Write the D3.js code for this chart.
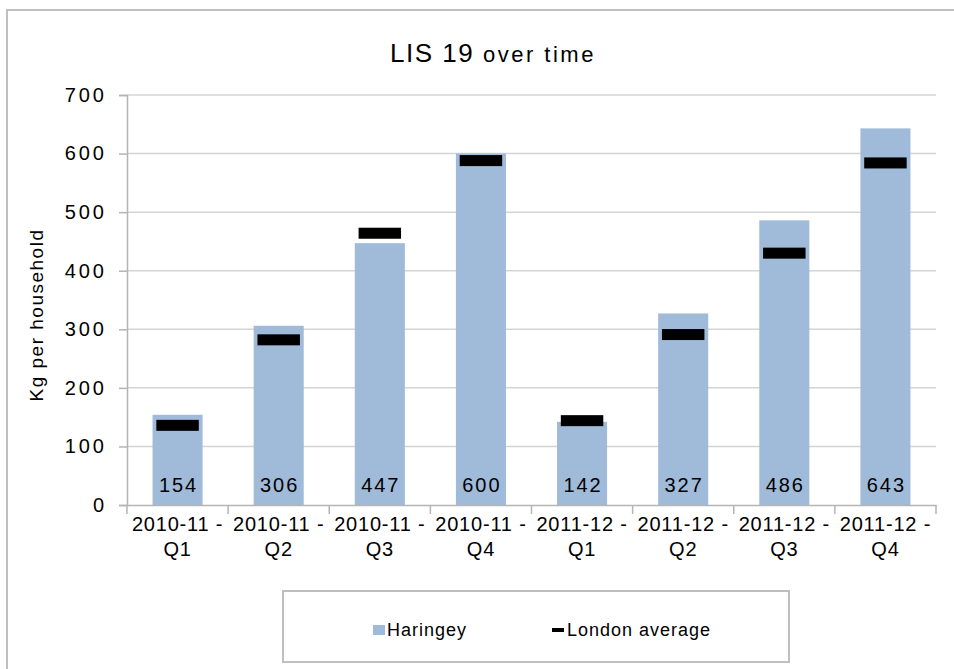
<!DOCTYPE html>
<html>
<head>
<meta charset="utf-8">
<script src="https://cdn.jsdelivr.net/npm/d3@7"></script>
<style>
  body { margin: 0; background: #fff; }
  svg { font-family: "Liberation Sans", Arial, sans-serif; }
</style>
</head>
<body>
<div id="chart"></div>
<script>
const quarters = ["2010-11 - Q1", "2010-11 - Q2", "2010-11 - Q3", "2010-11 - Q4",
                  "2011-12 - Q1", "2011-12 - Q2", "2011-12 - Q3", "2011-12 - Q4"];
const haringey = [154, 306, 447, 600, 142, 327, 486, 643];
const londonAvg = [136, 282, 464, 588, 144, 291, 430, 584];
const yTicks = [0, 100, 200, 300, 400, 500, 600, 700];

const width = 954, height = 669;
const plot = { l: 127, r: 936, t: 95, b: 505 };

const svg = d3.select("#chart").append("svg")
  .attr("width", width)
  .attr("height", height);

// outer frame
svg.append("rect")
  .attr("x", 7).attr("y", 10)
  .attr("width", 960).attr("height", 680)
  .attr("fill", "#fff")
  .attr("stroke", "#bfbfbf")
  .attr("stroke-width", 2);

const x = d3.scaleBand().domain(quarters).range([plot.l, plot.r]).padding(0);
const y = d3.scaleLinear().domain([0, 700]).range([plot.b, plot.t]);

// title
const title = svg.append("text")
  .attr("x", 493).attr("y", 62)
  .attr("text-anchor", "middle");
title.append("tspan").attr("font-size", 26).attr("letter-spacing", 1.5).text("LIS 19 ");
title.append("tspan").attr("font-size", 22).attr("letter-spacing", 2.5).text("over time");

// gridlines
svg.append("g")
  .selectAll("line")
  .data(yTicks.filter(d => d > 0))
  .join("line")
  .attr("x1", plot.l).attr("x2", plot.r)
  .attr("y1", d => y(d)).attr("y2", d => y(d))
  .attr("stroke", "#d4d4d4")
  .attr("stroke-width", 1.5);

// y axis
const yAxis = svg.append("g")
  .attr("transform", "translate(" + plot.l + ",0)")
  .call(d3.axisLeft(y).tickValues(yTicks).tickSize(8).tickPadding(12));
yAxis.select(".domain").attr("stroke", "#b5b5b5").attr("stroke-width", 1.5);
yAxis.selectAll(".tick line").attr("stroke", "#b5b5b5").attr("stroke-width", 1.5);
yAxis.selectAll(".tick text")
  .attr("font-size", 20)
  .attr("letter-spacing", 3)
  .attr("fill", "#000")
  .attr("font-family", "Liberation Sans, Arial, sans-serif");

// y label
svg.append("text")
  .attr("transform", "translate(43,315) rotate(-90)")
  .attr("text-anchor", "middle")
  .attr("font-size", 19)
  .attr("letter-spacing", 1.5)
  .text("Kg per household");

// bars
const barW = x.bandwidth() * 0.495;
svg.append("g")
  .selectAll("rect")
  .data(haringey)
  .join("rect")
  .attr("x", (d, i) => x(quarters[i]) + (x.bandwidth() - barW) / 2)
  .attr("y", d => y(d))
  .attr("width", barW)
  .attr("height", d => y(0) - y(d))
  .attr("fill", "#9fbbd9");

// value labels
svg.append("g")
  .selectAll("text")
  .data(haringey)
  .join("text")
  .attr("x", (d, i) => x(quarters[i]) + x.bandwidth() / 2 + 1)
  .attr("y", y(0) - 13)
  .attr("text-anchor", "middle")
  .attr("font-size", 20)
  .attr("letter-spacing", 2)
  .text(d => d);

// london average markers
const markW = x.bandwidth() * 0.42;
svg.append("g")
  .selectAll("rect")
  .data(londonAvg)
  .join("rect")
  .attr("x", (d, i) => x(quarters[i]) + (x.bandwidth() - markW) / 2)
  .attr("y", d => y(d) - 5.5)
  .attr("width", markW)
  .attr("height", 11)
  .attr("fill", "#000");

// x axis
const xAxis = svg.append("g")
  .attr("transform", "translate(0," + plot.b + ")")
  .call(d3.axisBottom(x).tickSize(0).tickFormat(""));
xAxis.select(".domain").attr("stroke", "#b5b5b5").attr("stroke-width", 1.5);

// tick marks at band boundaries
svg.append("g")
  .selectAll("line")
  .data(quarters.concat([null]))
  .join("line")
  .attr("x1", d => d ? x(d) : x(quarters[quarters.length - 1]) + x.bandwidth())
  .attr("x2", d => d ? x(d) : x(quarters[quarters.length - 1]) + x.bandwidth())
  .attr("y1", plot.b).attr("y2", plot.b + 9)
  .attr("stroke", "#b5b5b5")
  .attr("stroke-width", 1.5);

// category labels (two lines)
const catLabels = svg.append("g")
  .selectAll("text")
  .data(quarters)
  .join("text")
  .attr("y", 531)
  .attr("text-anchor", "middle")
  .attr("font-size", 20)
  .attr("letter-spacing", 0.8);
catLabels.append("tspan")
  .attr("x", d => x(d) + x.bandwidth() / 2)
  .text(d => d.split(" - ")[0] + " -");
catLabels.append("tspan")
  .attr("x", d => x(d) + x.bandwidth() / 2)
  .attr("dy", 25)
  .text(d => d.split(" - ")[1]);

// legend
const legend = svg.append("g");
legend.append("rect")
  .attr("x", 283).attr("y", 591)
  .attr("width", 506).attr("height", 71)
  .attr("fill", "#fff")
  .attr("stroke", "#bfbfbf")
  .attr("stroke-width", 2);
legend.append("rect")
  .attr("x", 373).attr("y", 625)
  .attr("width", 12).attr("height", 10)
  .attr("fill", "#9fbbd9");
legend.append("text")
  .attr("x", 387).attr("y", 636)
  .attr("font-size", 18)
  .attr("letter-spacing", 1)
  .text("Haringey");
legend.append("rect")
  .attr("x", 552).attr("y", 628)
  .attr("width", 12).attr("height", 4)
  .attr("fill", "#000");
legend.append("text")
  .attr("x", 567).attr("y", 636)
  .attr("font-size", 18)
  .attr("letter-spacing", 1)
  .text("London average");
</script>
</body>
</html>
